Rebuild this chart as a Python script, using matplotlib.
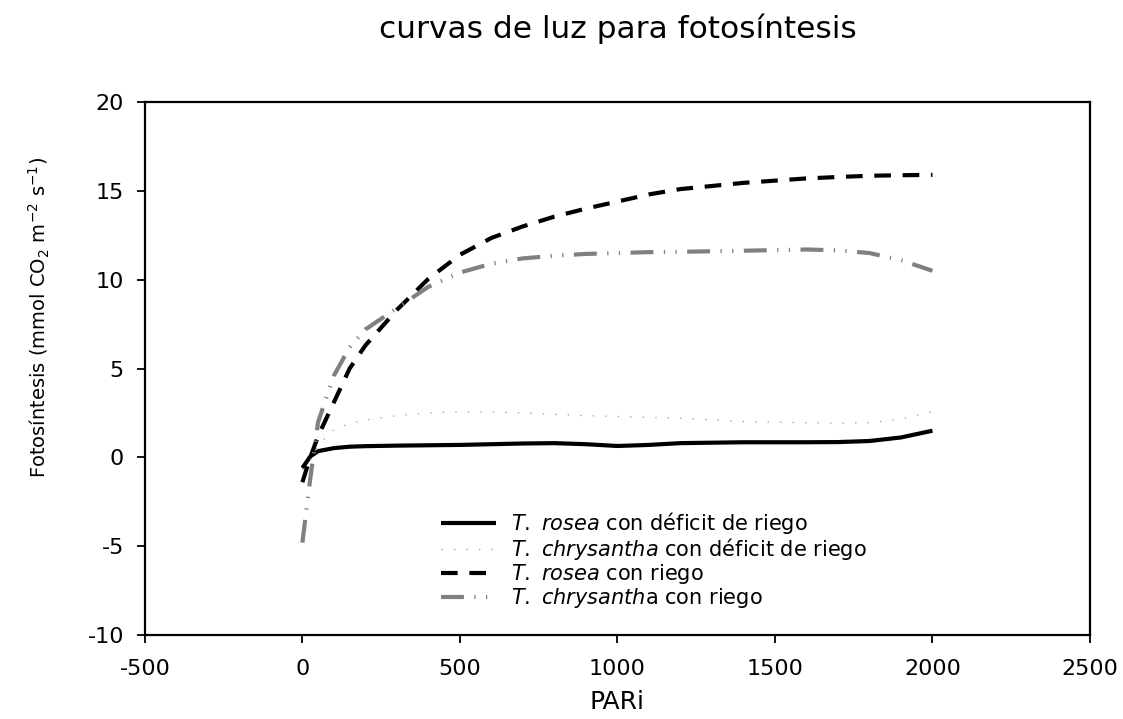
import matplotlib
matplotlib.use("Agg")
import matplotlib.pyplot as plt

plt.rcParams['font.family'] = ['DejaVu Sans']
plt.rcParams['mathtext.fontset'] = 'dejavusans'
plt.rcParams['mathtext.default'] = 'regular'
plt.rcParams['axes.unicode_minus'] = False

# PAR values (x)
par = [0, 25, 50, 100, 150, 200, 300, 400, 500, 600, 700, 800, 900, 1000,
       1100, 1200, 1400, 1600, 1700, 1800, 1900, 2000]

rosea_deficit = [-0.6, 0.05, 0.35, 0.52, 0.6, 0.63, 0.66, 0.68, 0.7, 0.74, 0.78, 0.8,
                 0.74, 0.64, 0.7, 0.8, 0.85, 0.85, 0.86, 0.92, 1.12, 1.5]
chrys_deficit = [-0.7, -0.2, 0.7, 1.55, 1.92, 2.1, 2.35, 2.5, 2.57, 2.55, 2.5, 2.42,
                 2.35, 2.3, 2.25, 2.2, 2.02, 1.95, 1.92, 1.95, 2.15, 2.57]
rosea_riego = [-1.4, 0.0, 1.2, 3.1, 5.0, 6.3, 8.3, 10.05, 11.4, 12.35, 13.0, 13.55,
               14.0, 14.4, 14.8, 15.1, 15.45, 15.7, 15.78, 15.85, 15.88, 15.9]
chrys_riego = [-4.8, -1.2, 2.0, 4.6, 6.2, 7.2, 8.4, 9.6, 10.4, 10.9, 11.2, 11.35,
               11.45, 11.5, 11.55, 11.57, 11.63, 11.7, 11.65, 11.5, 11.1, 10.5]

labels = [r'$\mathit{T.}$ $\mathit{rosea}$ con déficit de riego',
          r'$\mathit{T.}$ $\mathit{chrysantha}$ con déficit de riego',
          r'$\mathit{T.}$ $\mathit{rosea}$ con riego',
          r'$\mathit{T.}$ $\mathit{chrysanth}$a con riego']

xticks = [-500, 0, 500, 1000, 1500, 2000, 2500]
yticks = [-10, -5, 0, 5, 10, 15, 20]

fig = plt.figure(figsize=(11.23, 7.19), dpi=100)
ax = fig.add_axes([0.129, 0.1168, 0.8416, 0.7413])

ax.plot(par, rosea_deficit, color='black', lw=3, solid_capstyle='butt', label=labels[0])
ax.plot(par, chrys_deficit, color='#a8a8a8', lw=1, dashes=(1, 8), label=labels[1])
ax.plot(par, rosea_riego, color='black', lw=3, dashes=(4, 2.8), dash_capstyle='butt',
        label=labels[2])
ax.plot(par, chrys_riego, color='#808080', lw=3,
        dashes=(5.5, 2.5, 0.3, 2.5, 0.3, 2.5), dash_capstyle='butt', label=labels[3])

ax.set_xlim(-500, 2500)
ax.set_ylim(-10, 20)
ax.set_xticks(xticks)
ax.set_yticks(yticks)
ax.tick_params(direction='out', length=6, width=1.3, labelsize=16)
ax.tick_params(axis='x', pad=11)
ax.tick_params(axis='y', pad=9)
for s in ax.spines.values():
    s.set_linewidth(1.6)

ax.set_xlabel('PARi', fontsize=18, labelpad=8)
ax.set_ylabel(r'Fotosíntesis (mmol CO$_2$ m$^{-2}$ s$^{-1}$)', fontsize=14)
ax.yaxis.set_label_coords(-0.098, 0.595)
ax.set_title('curvas de luz para fotosíntesis', fontsize=22.5, pad=46)

ax.legend(loc='upper left', bbox_to_anchor=(0.305, 0.25), frameon=False,
          fontsize=15, handlelength=2.6, handletextpad=0.75, labelspacing=0.0,
          borderaxespad=0)

fig.savefig('out.png', dpi=100, facecolor='white')
